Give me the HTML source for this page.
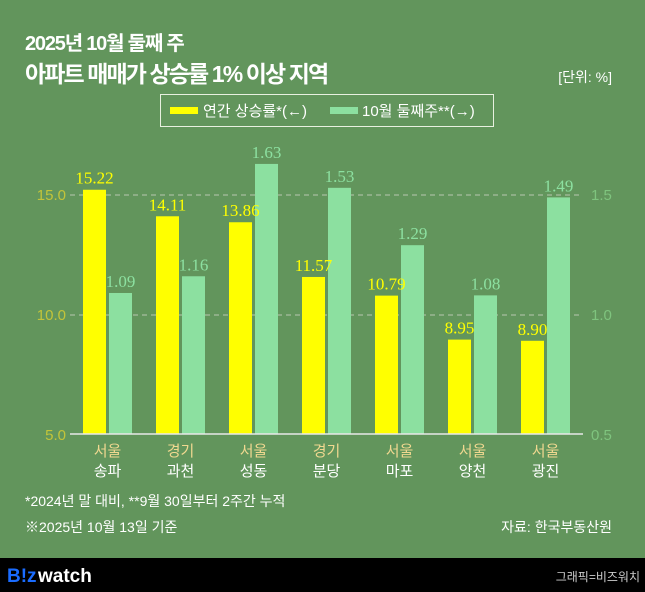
<!DOCTYPE html>
<html><head><meta charset="utf-8"><style>
body{margin:0;width:645px;height:592px;background:#62955c;overflow:hidden;font-family:"Liberation Sans","Noto Sans CJK KR",sans-serif;}
</style></head><body>
<svg width="645" height="592" xmlns="http://www.w3.org/2000/svg" style="position:absolute;left:0;top:0">
<rect width="645" height="592" fill="#62955c"/>
<g font-family="Liberation Sans, Noto Sans CJK KR, sans-serif" fill="#fff" font-weight="bold">
<text x="25" y="50" font-size="20" letter-spacing="-1.2">2025년 10월 둘째 주</text>
<text x="25" y="82" font-size="23" letter-spacing="-1.9">아파트 매매가 상승률 1% 이상 지역</text>
</g>
<text x="612" y="82" font-size="14" fill="#fff" text-anchor="end" font-family="Liberation Sans, Noto Sans CJK KR, sans-serif">[단위: %]</text>
<rect x="160.5" y="94.5" width="333" height="32" fill="none" stroke="#e8f0e0" stroke-width="1"/>
<rect x="170" y="107" width="28" height="7" fill="#ffff00"/>
<text x="203" y="116" font-size="15" fill="#fff" font-family="Liberation Sans, Noto Sans CJK KR, sans-serif">연간 상승률*(←)</text>
<rect x="330" y="107" width="28" height="7" fill="#8ce0a0"/>
<text x="362" y="116" font-size="15" fill="#fff" font-family="Liberation Sans, Noto Sans CJK KR, sans-serif">10월 둘째주**(→)</text>
<line x1="70" y1="195" x2="580" y2="195" stroke="#b8c8b0" stroke-dasharray="5,4"/>
<line x1="70" y1="315" x2="580" y2="315" stroke="#b8c8b0" stroke-dasharray="5,4"/>
<g font-size="15" fill="#c3c43a" text-anchor="end" font-family="Liberation Sans, sans-serif">
<text x="66" y="200">15.0</text><text x="66" y="320">10.0</text><text x="66" y="440">5.0</text></g>
<g font-size="15" fill="#7fc47e" font-family="Liberation Sans, sans-serif">
<text x="591" y="200">1.5</text><text x="591" y="320">1.0</text><text x="591" y="440">0.5</text></g>
<g id="bars"></g>
<line x1="70" y1="434" x2="583" y2="434" stroke="#e8e8e8" stroke-width="1.5"/>
<g font-size="14" fill="#fff" font-family="Liberation Sans, Noto Sans CJK KR, sans-serif">
<text x="25" y="506">*2024년 말 대비, **9월 30일부터 2주간 누적</text>
<text x="25" y="532">※2025년 10월 13일 기준</text>
<text x="612" y="532" text-anchor="end">자료: 한국부동산원</text></g>
<rect x="0" y="558" width="645" height="34" fill="#000"/>
<text x="7" y="582" font-size="19" font-weight="bold" fill="#1a6cff" font-family="Liberation Sans, sans-serif">B!z</text>
<text x="38" y="582" font-size="19" font-weight="bold" fill="#fff" font-family="Liberation Sans, sans-serif">watch</text>
<text x="640" y="581" font-size="12" fill="#ccc" text-anchor="end" font-family="Liberation Sans, Noto Sans CJK KR, sans-serif">그래픽=비즈워치</text>
</svg>
<script>
var L=[15.22,14.11,13.86,11.57,10.79,8.95,8.90],R=[1.09,1.16,1.63,1.53,1.29,1.08,1.49];
var c1=["서울","경기","서울","경기","서울","서울","서울"],c2=["송파","과천","성동","분당","마포","양천","광진"];
var s="";
for(var i=0;i<7;i++){var x=83+73*i,ty=434-(L[i]-5)*23.9,gx=x+26,gy=434-(R[i]-0.5)*239;
s+='<rect x="'+x+'" y="'+ty+'" width="23" height="'+(434-ty)+'" fill="#ffff00"/>';
s+='<rect x="'+gx+'" y="'+gy+'" width="23" height="'+(434-gy)+'" fill="#8ce0a0"/>';
s+='<text x="'+(x+11.5)+'" y="'+(ty-6)+'" font-size="17" fill="#ffff00" text-anchor="middle" font-family="Liberation Serif, serif">'+L[i].toFixed(2)+'</text>';
s+='<text x="'+(gx+11.5)+'" y="'+(gy-6)+'" font-size="17" fill="#8ce0a0" text-anchor="middle" font-family="Liberation Serif, serif">'+R[i].toFixed(2)+'</text>';
s+='<text x="'+(x+24.5)+'" y="456" font-size="15" fill="#f0d890" text-anchor="middle" font-family="Liberation Sans, Noto Sans CJK KR, sans-serif">'+c1[i]+'</text>';
s+='<text x="'+(x+24.5)+'" y="476" font-size="15" fill="#fff" text-anchor="middle" font-family="Liberation Sans, Noto Sans CJK KR, sans-serif">'+c2[i]+'</text>';}
document.getElementById("bars").innerHTML=s;
</script>
</body></html>
